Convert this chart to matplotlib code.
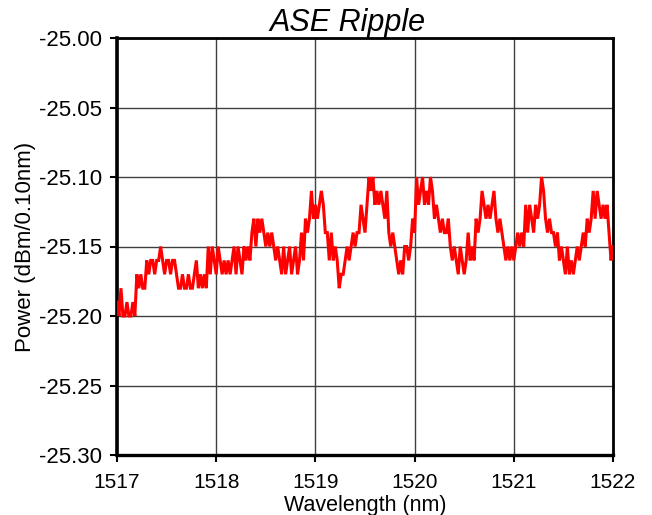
import matplotlib
matplotlib.use("Agg")
import matplotlib.pyplot as plt
import numpy as np

plt.rcParams['font.family'] = ['Liberation Sans', 'DejaVu Sans']

title = "ASE Ripple"
x_label = "Wavelength (nm)"
y_label = "Power (dBm/0.10nm)"
x_ticks = [1517, 1518, 1519, 1520, 1521, 1522]
y_ticks = [-25.30, -25.25, -25.20, -25.15, -25.10, -25.05, -25.00]
x_start, x_stop = 1517.0, 1522.0

# power readings (dBm/0.10nm), sampled every 0.02 nm from 1517 to 1522
power = [
    -25.19, -25.20, -25.18, -25.20, -25.20, -25.19, -25.20, -25.20, -25.19, -25.20,
    -25.17, -25.18, -25.17, -25.18, -25.18,
    -25.16, -25.17, -25.16, -25.16, -25.17, -25.16, -25.16, -25.15, -25.16, -25.17,
    -25.16, -25.16, -25.17, -25.16, -25.16,
    -25.17, -25.18, -25.18, -25.17, -25.18, -25.18, -25.17, -25.18, -25.18, -25.17,
    -25.16,
    -25.18, -25.17, -25.18, -25.17, -25.18,
    -25.15, -25.17, -25.15, -25.16, -25.17, -25.15,
    -25.16, -25.17, -25.16, -25.17, -25.16, -25.17, -25.16,
    -25.15, -25.17, -25.15, -25.16, -25.17,
    -25.15, -25.16, -25.15, -25.16,
    -25.14, -25.13, -25.15, -25.13, -25.14, -25.13,
    -25.14, -25.15, -25.14, -25.15, -25.14,
    -25.15, -25.16, -25.15, -25.16,
    -25.17, -25.15, -25.17, -25.16, -25.15, -25.17, -25.16, -25.15, -25.17, -25.16,
    -25.14, -25.16,
    -25.13, -25.14, -25.13,
    -25.11,
    -25.13, -25.12, -25.13, -25.12,
    -25.11, -25.12,
    -25.14, -25.14,
    -25.16, -25.14, -25.16,
    -25.15, -25.16,
    -25.18, -25.17,
    -25.17, -25.16,
    -25.15, -25.16, -25.15,
    -25.14, -25.15, -25.14, -25.14,
    -25.12, -25.13,
    -25.14, -25.12,
    -25.10, -25.11, -25.10, -25.12,
    -25.11, -25.12, -25.11, -25.12,
    -25.13, -25.11,
    -25.14, -25.15, -25.14, -25.15,
    -25.16, -25.17, -25.16, -25.17, -25.15,
    -25.15, -25.16, -25.15,
    -25.13, -25.14,
    -25.10, -25.12, -25.11, -25.10,
    -25.12, -25.11, -25.12,
    -25.10, -25.11, -25.13, -25.12,
    -25.13, -25.14, -25.13, -25.14,
    -25.14, -25.13, -25.15,
    -25.16, -25.15, -25.16, -25.17, -25.15, -25.16, -25.17, -25.16,
    -25.14, -25.16, -25.15, -25.16,
    -25.13, -25.14, -25.13,
    -25.11,
    -25.12, -25.13, -25.12, -25.13, -25.12,
    -25.11,
    -25.13, -25.14, -25.13,
    -25.14, -25.15,
    -25.16, -25.15, -25.16, -25.15, -25.16, -25.15,
    -25.14, -25.15, -25.14, -25.15,
    -25.12, -25.14, -25.12,
    -25.13, -25.14, -25.12, -25.13, -25.12,
    -25.10,
    -25.11,
    -25.13, -25.14, -25.13, -25.14, -25.14,
    -25.15, -25.14, -25.16, -25.15,
    -25.16, -25.17, -25.15, -25.17, -25.16, -25.17,
    -25.16, -25.15, -25.16, -25.15,
    -25.14, -25.15,
    -25.13, -25.14, -25.13,
    -25.11, -25.13, -25.11, -25.12, -25.13,
    -25.12, -25.13, -25.12,
    -25.14, -25.16, -25.15,
]
wavelength = np.linspace(x_start, x_stop, len(power))

W, H = 652, 515
fig = plt.figure(figsize=(W / 100, H / 100), dpi=100)
ax = fig.add_axes([117 / W, (H - 455) / H, 496 / W, 417 / H])

ax.plot(wavelength, power, color='#ff0000', lw=2.2, solid_joinstyle='miter', zorder=3)

ax.set_xlim(x_start, x_stop)
ax.set_ylim(-25.30, -25.00)
ax.set_xticks(x_ticks)
ax.set_xticklabels([str(t) for t in x_ticks])
ax.set_yticks(y_ticks)
ax.set_yticklabels([f"{t:.2f}" for t in y_ticks])
ax.grid(True, color='#404040', lw=1.0, zorder=1)
ax.set_axisbelow(True)

ax.tick_params(axis='x', direction='out', length=5, width=1.5, pad=8, labelsize=15, colors='black')
ax.tick_params(axis='y', direction='out', length=5, width=1.5, pad=6, labelsize=16, colors='black')

for side, lw in [('left', 2.6), ('bottom', 2.4), ('top', 2.0), ('right', 2.0)]:
    ax.spines[side].set_linewidth(lw)
    ax.spines[side].set_color('black')

ax.set_title(title, fontsize=22, style='italic', x=0.465, pad=5)
ax.set_xlabel(x_label, fontsize=15.5)
ax.xaxis.set_label_coords(0.5, -0.095)
ax.set_ylabel(y_label, fontsize=16)
ax.yaxis.set_label_coords(-0.163, 0.5)

fig.savefig("out.png", dpi=100)
